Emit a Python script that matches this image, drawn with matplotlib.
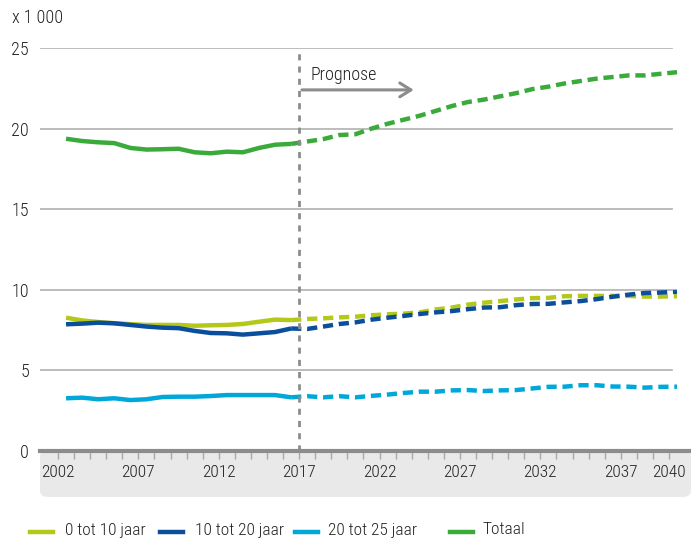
import matplotlib
matplotlib.use("Agg")
import matplotlib.pyplot as plt
from matplotlib.patches import FancyBboxPatch
import numpy as np

plt.rcParams['font.family'] = ['Roboto Condensed', 'Roboto', 'DejaVu Sans']
plt.rcParams['font.weight'] = 'light'

# Data (x 1 000)
years_obs = np.arange(2002, 2017)
years_prog = np.arange(2017, 2041)

age_0_10_obs = [8.27, 8.10, 8.00, 7.93, 7.87, 7.82, 7.82, 7.82, 7.77, 7.80, 7.82, 7.88, 8.02, 8.15, 8.12]
age_0_10_prog = [8.19, 8.23, 8.29, 8.33, 8.42, 8.48, 8.52, 8.60, 8.78, 8.90, 9.08, 9.20, 9.30, 9.40,
                 9.48, 9.50, 9.60, 9.62, 9.62, 9.62, 9.62, 9.58, 9.58, 9.60]

age_10_20_obs = [7.86, 7.90, 7.96, 7.92, 7.82, 7.72, 7.65, 7.62, 7.45, 7.32, 7.30, 7.22, 7.30, 7.38, 7.60]
age_10_20_prog = [7.57, 7.72, 7.88, 7.98, 8.15, 8.27, 8.38, 8.50, 8.60, 8.68, 8.80, 8.90, 8.92, 9.05,
                  9.12, 9.13, 9.22, 9.30, 9.42, 9.57, 9.70, 9.80, 9.83, 9.88]

age_20_25_obs = [3.27, 3.31, 3.21, 3.27, 3.16, 3.21, 3.35, 3.37, 3.37, 3.41, 3.47, 3.47, 3.47, 3.47, 3.33]
age_20_25_prog = [3.40, 3.33, 3.40, 3.33, 3.42, 3.50, 3.60, 3.68, 3.68, 3.76, 3.78, 3.72, 3.76, 3.78,
                  3.88, 3.98, 3.99, 4.08, 4.08, 4.00, 3.99, 3.93, 3.98, 3.99]

totaal_obs = [19.37, 19.23, 19.15, 19.10, 18.80, 18.70, 18.72, 18.75, 18.53, 18.47, 18.57, 18.53, 18.80, 19.00, 19.05]
totaal_prog = [19.20, 19.35, 19.60, 19.65, 20.00, 20.30, 20.55, 20.80, 21.10, 21.40, 21.65, 21.80, 22.00, 22.20,
               22.45, 22.60, 22.80, 22.95, 23.10, 23.20, 23.30, 23.30, 23.40, 23.50]

labels = ["0 tot 10 jaar", "10 tot 20 jaar", "20 tot 25 jaar", "Totaal"]
colors = ["#b4c81a", "#0b4f9c", "#00a8da", "#3aab3a"]
series = [(age_0_10_obs, age_0_10_prog), (age_10_20_obs, age_10_20_prog),
          (age_20_25_obs, age_20_25_prog), (totaal_obs, totaal_prog)]

tick_years = [2002, 2007, 2012, 2017, 2022, 2027, 2032, 2037, 2040]

fig = plt.figure(figsize=(6.91, 5.40), dpi=100)
ax = fig.add_axes([40 / 691, 89 / 540, 651 / 691, 403 / 540])
ax.set_zorder(2)
ax.patch.set_alpha(0)
ax.set_xlim(2000.88, 2041.37)
ax.set_ylim(0, 25)

# grey band under x-axis
band = FancyBboxPatch((40 / 691, 43 / 540), 651 / 691, 47 / 540,
                      boxstyle="round,pad=0,rounding_size=0.012",
                      transform=fig.transFigure, facecolor="#e9e9e9", edgecolor="none", zorder=0)
fig.patches.append(band)

for v in [5, 10, 15, 20, 25]:
    ax.axhline(v, xmin=0, xmax=0.971, color="#b0b0b0", lw=1.2, zorder=1)
ax.axhline(0, color="#8c8c8c", lw=3, zorder=3, clip_on=False)

# data plotted at mid-year
for (obs, prog), c in zip(series, colors):
    x_obs = years_obs + 0.5
    x_prog = np.concatenate([[years_obs[-1] + 0.5], years_prog + 0.5])
    y_prog = np.concatenate([[obs[-1]], prog])
    ax.plot(x_obs, obs, color=c, lw=3.2, solid_capstyle="butt", zorder=4)
    ax.plot(x_prog, y_prog, color=c, lw=3.2, dashes=(2.3, 1.3), dash_capstyle="butt", zorder=4)

ax.axvline(2017, ymin=0, ymax=0.99, color="#8c8c8c", lw=2, dashes=(2.2, 2.2), zorder=5)

# prognose arrow
ax.annotate("", xy=(2024.3, 22.4), xytext=(2017, 22.4),
            arrowprops=dict(arrowstyle="->,head_length=0.8,head_width=0.5", color="#8c8c8c", lw=2.2))
ax.text(2017.7, 23.3, "Prognose", fontsize=13, color="#222222", va="center", ha="left")

for s in ax.spines.values():
    s.set_visible(False)

ax.set_yticks([0, 5, 10, 15, 20, 25])
ax.set_yticklabels(["0", "5", "10", "15", "20", "25"], fontsize=13, color="#222222")
ax.tick_params(axis="y", length=0, pad=8)
ax.set_xticks(tick_years)
ax.set_xticklabels([str(y) for y in tick_years], fontsize=12.5, color="#222222")
ax.set_xticks(np.arange(2002, 2041), minor=True)
ax.tick_params(axis="x", which="both", length=6, width=1, color="#a8a8a8", direction="out", pad=4)

fig.text(12 / 691, 1 - 18 / 540, "x 1 000", fontsize=13, color="#222222", va="center", ha="left")

# legend
leg_lines = [(30, 53, 65), (160, 183, 195), (295, 318, 328), (450, 473, 483)]
for (x0, x1, xt), lab, c in zip(leg_lines, labels, colors):
    fig.add_artist(plt.Line2D([x0 / 691, x1 / 691], [1 - 532 / 540] * 2, color=c, lw=3.2,
                              transform=fig.transFigure))
    fig.text(xt / 691, 1 - 530 / 540, lab, fontsize=12.5, color="#222222", va="center", ha="left")

fig.savefig("out.png", dpi=100)
